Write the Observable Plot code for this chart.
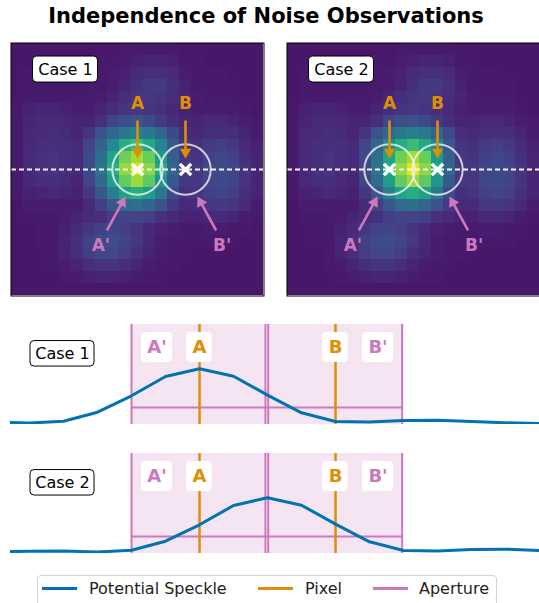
<!DOCTYPE html>
<html><head><meta charset="utf-8">
<script src="https://cdn.jsdelivr.net/npm/d3@7"></script>
<script src="https://cdn.jsdelivr.net/npm/@observablehq/plot@0.6"></script>
<style>
body{margin:0;background:#fff;font-family:"DejaVu Sans",sans-serif;}
#wrap{position:relative;width:539px;height:603px;overflow:hidden;background:#fff;}
#wrap svg{position:absolute;overflow:visible;}
.title{position:absolute;left:0;width:532px;top:4px;text-align:center;font-weight:bold;font-size:21px;color:#000;white-space:nowrap;}
.legend{position:absolute;left:37px;top:575px;width:458px;height:40px;border:1px solid #d4d4d4;border-radius:4px;background:#fff;}
.legend .sw{position:absolute;height:3px;width:35px;top:11px;}
.legend .lt{position:absolute;top:3px;font-size:16px;color:#222;white-space:nowrap;}
</style></head><body><div id="wrap"></div>
<script>
// ---------------- data ----------------
const titleText = "Independence of Noise Observations";
const cases = ["Case 1", "Case 2"];
const pixelLabels = ["A", "B"];
const apertureLabels = ["A'", "B'"];
const pixelA = [10, 8];          // column of pixel A in each case
const pixelB = [14, 12];         // column of pixel B in each case
const centerRow = 10;            // row of the cut (dashed line)
const apertureRadius = 2;        // aperture radius in pixels
const apertureLevel = [17, 17];  // aperture horizontal line value
// speckle image (normalized intensity), 21 x 21, row 0 = top
const imageRows = [
 [0.06,0.06,0.06,0.06,0.06,0.06,0.06,0.06,0.06,0.07,0.07,0.07,0.07,0.07,0.06,0.06,0.06,0.06,0.06,0.06,0.06],
 [0.06,0.06,0.06,0.07,0.07,0.07,0.07,0.07,0.07,0.08,0.09,0.10,0.10,0.09,0.07,0.07,0.06,0.06,0.06,0.06,0.06],
 [0.06,0.07,0.07,0.07,0.07,0.07,0.07,0.07,0.08,0.09,0.12,0.14,0.14,0.12,0.08,0.07,0.07,0.07,0.06,0.06,0.06],
 [0.06,0.07,0.07,0.07,0.07,0.07,0.07,0.07,0.08,0.10,0.14,0.17,0.17,0.14,0.09,0.07,0.07,0.07,0.07,0.06,0.06],
 [0.06,0.07,0.07,0.07,0.07,0.07,0.07,0.08,0.10,0.13,0.15,0.16,0.15,0.13,0.10,0.08,0.07,0.07,0.07,0.06,0.06],
 [0.07,0.09,0.10,0.10,0.09,0.08,0.08,0.10,0.13,0.15,0.16,0.15,0.14,0.11,0.09,0.08,0.08,0.08,0.08,0.07,0.06],
 [0.07,0.10,0.12,0.12,0.11,0.10,0.10,0.14,0.20,0.24,0.25,0.22,0.17,0.13,0.10,0.10,0.11,0.11,0.10,0.08,0.07],
 [0.07,0.11,0.12,0.13,0.12,0.10,0.15,0.25,0.33,0.40,0.43,0.40,0.32,0.22,0.13,0.11,0.13,0.14,0.13,0.10,0.08],
 [0.07,0.11,0.13,0.14,0.13,0.11,0.20,0.32,0.47,0.62,0.68,0.60,0.45,0.27,0.15,0.14,0.17,0.18,0.16,0.12,0.09],
 [0.07,0.12,0.14,0.15,0.13,0.12,0.22,0.36,0.58,0.78,0.86,0.77,0.55,0.30,0.16,0.15,0.19,0.21,0.19,0.14,0.10],
 [0.07,0.12,0.14,0.15,0.13,0.11,0.22,0.38,0.62,0.84,0.96,0.83,0.60,0.32,0.16,0.16,0.21,0.22,0.20,0.15,0.10],
 [0.07,0.11,0.13,0.14,0.12,0.10,0.20,0.34,0.56,0.76,0.85,0.75,0.52,0.28,0.16,0.16,0.21,0.22,0.20,0.15,0.10],
 [0.07,0.09,0.10,0.11,0.10,0.09,0.16,0.27,0.42,0.58,0.62,0.56,0.40,0.22,0.14,0.15,0.19,0.20,0.18,0.14,0.10],
 [0.06,0.08,0.08,0.08,0.08,0.08,0.12,0.18,0.27,0.34,0.36,0.33,0.25,0.16,0.11,0.12,0.16,0.17,0.15,0.12,0.08],
 [0.06,0.07,0.07,0.07,0.08,0.10,0.12,0.14,0.18,0.20,0.20,0.18,0.14,0.11,0.09,0.09,0.11,0.12,0.10,0.08,0.07],
 [0.06,0.06,0.07,0.07,0.09,0.12,0.16,0.19,0.20,0.18,0.15,0.11,0.09,0.08,0.07,0.07,0.08,0.08,0.07,0.07,0.06],
 [0.06,0.06,0.07,0.07,0.10,0.14,0.19,0.22,0.23,0.20,0.16,0.11,0.08,0.07,0.07,0.07,0.07,0.07,0.07,0.06,0.06],
 [0.06,0.06,0.06,0.07,0.10,0.13,0.18,0.21,0.21,0.18,0.14,0.10,0.08,0.07,0.07,0.06,0.06,0.06,0.06,0.06,0.06],
 [0.06,0.06,0.06,0.07,0.08,0.10,0.13,0.15,0.15,0.13,0.10,0.08,0.07,0.07,0.06,0.06,0.06,0.06,0.06,0.06,0.06],
 [0.06,0.06,0.06,0.06,0.07,0.08,0.09,0.10,0.10,0.09,0.08,0.07,0.07,0.06,0.06,0.06,0.06,0.06,0.06,0.06,0.06],
 [0.06,0.06,0.06,0.06,0.06,0.06,0.06,0.06,0.06,0.06,0.06,0.06,0.06,0.06,0.06,0.06,0.06,0.06,0.06,0.06,0.06]
];
// speckle profile along the cut
const profileCols   = [0,1,2,3,4,5,6,7,8,9,10,11,12,13,14,15,16,17,18,19,20];
const profileValues = [2.0,2.0,1.6,2.3,2.5,1.5,3.2,12.3,28.7,48,55.8,48.3,29.4,11.7,3.0,2.5,4.0,4.3,3.0,1.7,1.0];
const legendLabels = ["Potential Speckle", "Pixel", "Aperture"];

// ---------------- style / layout ----------------
const BLUE = "#0173B2", ORANGE = "#DE8F05", PINK = "#CC78BC";
const FONT = "DejaVu Sans";
const N = imageRows.length, CELL = 12, SIDE = N * CELL;
const wrap = document.getElementById("wrap");

const t = document.createElement("div");
t.className = "title"; t.textContent = titleText; wrap.appendChild(t);

function place(el, left, top) { el.style.left = left + "px"; el.style.top = top + "px"; wrap.appendChild(el); }

// triangle arrow head helper: in isotropic data units (px per unit = ppu)
function arrowParts(list, ppu, headR) {
  const hy = Math.sqrt(Math.PI * headR * headR / (3 * Math.sqrt(3)));
  return list.map(a => {
    const dx = a.x2 - a.x1, dy = a.y2 - a.y1, L = Math.hypot(dx, dy);
    const ux = dx / L, uy = dy / L, back = 2 * hy / ppu;
    return {...a, hx: a.x2 - ux * back, hy: a.y2 - uy * back,
      rot: Math.atan2(ux, -uy) * 180 / Math.PI};
  });
}

function heatmap(k) {
  const A = pixelA[k] + 0.5, B = pixelB[k] + 0.5, yc = centerRow + 0.5;
  const cells = imageRows.flatMap((row, r) => row.map((v, c) => ({r, c, v})));
  const px = [{label: pixelLabels[0], col: A}, {label: pixelLabels[1], col: B}];
  const orangeArrows = arrowParts(px.map(p => ({x1: p.col, y1: yc - 4.08, x2: p.col, y2: yc - 0.92})), CELL, 4.2);
  const aps = [{label: apertureLabels[0], col: A, s: -1}, {label: apertureLabels[1], col: B, s: 1}];
  const pinkArrows = arrowParts(aps.map(p => ({x1: p.col + p.s * 2.55, y1: yc + 5.08, x2: p.col + p.s * 1.0, y2: yc + 2.25})), CELL, 4.2);
  const box = [{cx: 4.5, cy: 2.17, w: 65 / CELL, h: 26 / CELL, text: cases[k]}];
  return Plot.plot({
    width: SIDE + 2, height: SIDE + 2, margin: 1,
    style: {fontFamily: FONT, background: "transparent"},
    x: {domain: [0, N], axis: null},
    y: {domain: [0, N], reverse: true, axis: null},
    color: {type: "linear", scheme: "viridis", domain: [0, 1]},
    marks: [
      Plot.rect(cells, {x1: "c", x2: d => d.c + 1, y1: "r", y2: d => d.r + 1, fill: "v", shapeRendering: "crispEdges"}),
      Plot.dot(px, {x: "col", y: () => yc, r: 2.1 * CELL, stroke: "#f2f2f2", strokeOpacity: 0.8, strokeWidth: 2, fill: "none"}),
      Plot.ruleY([yc], {stroke: "#f4f4f4", strokeWidth: 1.8, strokeDasharray: "5,3"}),
      Plot.dot(px, {x: "col", y: () => yc, symbol: "times", r: 5.2, stroke: "white", strokeWidth: 3.4}),
      Plot.link(orangeArrows, {x1: "x1", y1: "y1", x2: "hx", y2: "hy", stroke: ORANGE, strokeWidth: 2.6}),
      Plot.dot(orangeArrows, {x: "hx", y: "hy", symbol: "triangle", r: 4.2, fill: ORANGE, rotate: "rot"}),
      Plot.text(px, {x: "col", y: () => yc - 5.5, text: "label", fill: ORANGE, fontSize: 17, fontWeight: "bold"}),
      Plot.link(pinkArrows, {x1: "x1", y1: "y1", x2: "hx", y2: "hy", stroke: PINK, strokeWidth: 2.6}),
      Plot.dot(pinkArrows, {x: "hx", y: "hy", symbol: "triangle", r: 4.2, fill: PINK, rotate: "rot"}),
      Plot.text(aps, {x: d => d.col + d.s * 3.05, y: () => yc + 6.35, text: "label", fill: PINK, fontSize: 17, fontWeight: "bold"}),
      Plot.rect(box, {x1: d => d.cx - d.w / 2, x2: d => d.cx + d.w / 2, y1: d => d.cy - d.h / 2, y2: d => d.cy + d.h / 2, fill: "white", stroke: "black", strokeWidth: 1, rx: 4}),
      Plot.text(box, {x: "cx", y: "cy", text: "text", fill: "black", fontSize: 16}),
      Plot.frame({stroke: "black", strokeWidth: 1, inset: -0.5})
    ]
  });
}

function profilePlot(k) {
  const A = pixelA[k], B = pixelB[k];
  const W = 529, H = 100, left = 5.56, right = 10;
  const ppu = W / (left + right);
  const profile = profileCols.map((c, i) => ({c, v: profileValues[i]}));
  const apertures = [{x1: A - apertureRadius, x2: A + apertureRadius - 0.06}, {x1: B - apertureRadius + 0.02, x2: B + apertureRadius - 0.04}];
  const edges = apertures.flatMap(a => [a.x1, a.x2]);
  const labels = [
    {text: apertureLabels[0], x: A - 1.25, w: 31 / ppu, color: PINK},
    {text: pixelLabels[0], x: A, w: 25.5 / ppu, color: ORANGE},
    {text: pixelLabels[1], x: B, w: 25.5 / ppu, color: ORANGE},
    {text: apertureLabels[1], x: B + 1.25, w: 31 / ppu, color: PINK}
  ];
  const ly = 77, lh = 30;
  const caseBox = [{cx: A - left + 52 / ppu, cy: 70.7, w: 64 / ppu, h: 25.5, text: cases[k]}];
  return Plot.plot({
    width: W, height: H, margin: 0,
    style: {fontFamily: FONT, background: "transparent"},
    x: {domain: [A - left, A + right], axis: null},
    y: {domain: [0, H], axis: null},
    marks: [
      Plot.rect(apertures, {x1: "x1", x2: "x2", y1: () => 0, y2: () => H, fill: PINK, fillOpacity: 0.2}),
      Plot.ruleX(edges, {stroke: PINK, strokeWidth: 2}),
      Plot.ruleY([apertureLevel[k]], {x1: () => A - apertureRadius, x2: () => B + apertureRadius, stroke: PINK, strokeWidth: 2}),
      Plot.ruleX([A, B], {stroke: ORANGE, strokeWidth: 2.5}),
      Plot.line(profile, {x: "c", y: "v", stroke: BLUE, strokeWidth: 3, clip: true}),
      Plot.rect(labels, {x1: d => d.x - d.w / 2, x2: d => d.x + d.w / 2, y1: () => ly - lh / 2, y2: () => ly + lh / 2, fill: "white", rx: 4}),
      Plot.text(labels, {x: "x", y: () => ly, text: "text", fill: "color", fontSize: 18, fontWeight: "bold"}),
      Plot.rect(caseBox, {x1: d => d.cx - d.w / 2, x2: d => d.cx + d.w / 2, y1: d => d.cy - d.h / 2, y2: d => d.cy + d.h / 2, fill: "white", stroke: "black", strokeWidth: 1, rx: 4}),
      Plot.text(caseBox, {x: "cx", y: "cy", text: "text", fill: "black", fontSize: 16})
    ]
  });
}

place(heatmap(0), 10, 42);
place(heatmap(1), 286, 42);
place(profilePlot(0), 10, 324);
place(profilePlot(1), 10, 453);

// legend
const lg = document.createElement("div"); lg.className = "legend";
const lgColors = [BLUE, ORANGE, PINK];
const swLeft = [4, 220, 335], txLeft = [51, 267, 381];
legendLabels.forEach((name, i) => {
  const sw = document.createElement("div"); sw.className = "sw";
  sw.style.left = swLeft[i] + "px"; sw.style.background = lgColors[i]; lg.appendChild(sw);
  const tx = document.createElement("div"); tx.className = "lt";
  tx.style.left = txLeft[i] + "px"; tx.textContent = name; lg.appendChild(tx);
});
wrap.appendChild(lg);
</script></body></html>
